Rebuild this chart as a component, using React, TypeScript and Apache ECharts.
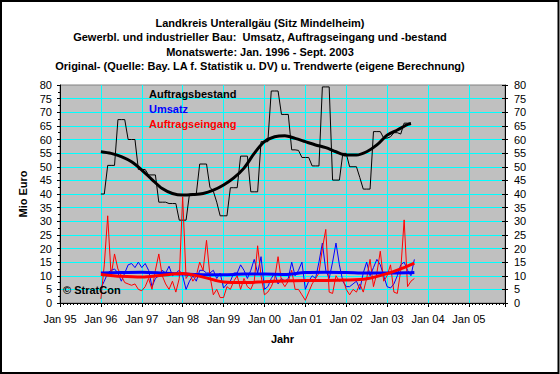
import React, { useEffect, useRef } from "react";
import * as echarts from "echarts";

const FONT = '"Liberation Sans", Arial, sans-serif';

const titleLines = [
  "Landkreis Unterallgäu (Sitz Mindelheim)",
  "Gewerbl. und industrieller Bau:  Umsatz, Auftragseingang und -bestand",
  "Monatswerte: Jan. 1996 - Sept. 2003",
  "Original- (Quelle: Bay. LA f. Statistik u. DV) u. Trendwerte (eigene Berechnung)",
];

const seriesNames = ["Auftragsbestand", "Umsatz", "Auftragseingang"];

// months counted from Jan 95 on the x axis; data start Jan 96
const dataStart = 12;

// Auftragsbestand, monthly, Jan 96 - Aug 03
const bestand = [
  40, 40, 50.5, 50.5, 50.5, 67.3, 67.3, 67.3, 60, 60, 60, 49,
  49, 49, 47, 47, 47, 37, 37, 37, 36.5, 36.5, 36.5, 30.4,
  30.4, 30.4, 40, 40, 40, 51, 51, 51, 42.5, 41, 37, 32,
  32, 32, 42.3, 42.3, 42.3, 53.9, 53.9, 53.9, 40.8, 40.8, 40.8, 59.2,
  59.2, 59.2, 77.8, 77.8, 77.8, 69.2, 69.2, 69.2, 56.2, 56.2, 56, 53.4,
  53.4, 53.4, 50.3, 50.3, 50.3, 79.3, 79.3, 79.3, 45.1, 45.1, 45.1, 54.9,
  54.9, 50, 50, 50, 46, 41.8, 41.8, 41.8, 62.9, 62.9, 62.9, 60.5,
  60.5, 61, 62.5, 62.5, 62, 66, 66, 66,
];

// Umsatz, monthly, Jan 96 - Sep 03
const umsatz = [
  5.5, 8, 11, 12, 12.5, 11, 8, 11, 14, 14.5, 13, 15,
  13, 14.5, 12, 6, 9, 10, 12, 11, 13.5, 10, 11, 12,
  10, 5, 8, 10, 8, 12, 12, 11, 11, 12, 9, 11,
  5.5, 7, 8, 11, 11, 14, 12, 9, 12, 16, 11, 17,
  5, 6, 9, 11, 7, 9, 8, 9, 15, 10, 12, 15,
  5, 8, 10, 9, 15, 22, 12, 9, 15, 22, 14, 8,
  6, 6, 7, 8, 5, 11, 15, 10, 13, 16, 14, 10,
  6, 5.5, 7, 10, 14, 15, 12, 10, 16,
];

// Auftragseingang, monthly, Jan 96 - Sep 03
const eingang = [
  1.5, 14, 32, 10, 18, 12.5, 10, 7.5, 7, 6.5, 7, 5,
  4.5, 6, 9, 5, 12, 18, 10, 7, 5, 8, 4, 9,
  39, 9, 11, 8, 10, 15, 12, 23, 10, 3, 5, 2,
  2, 6, 5, 8, 10, 5, 9, 6, 5, 8, 21, 10,
  3, 4, 6, 9, 17, 8, 6, 8, 12, 5, 5, 3,
  1, 4, 7, 9, 11, 20, 27, 4, 3.5, 10, 8, 9,
  5, 3, 5, 4, 7, 4, 9, 16, 6, 11, 19, 8,
  10, 14, 4, 3.5, 12, 30.5, 6, 8, 9,
];

// Trend values read at selected months (offset from Jan 96)
const bestandTrendMonths = [0, 3, 6, 9, 12, 15, 18, 21, 24, 27, 30, 33, 36, 39, 42, 45, 48, 51, 54, 57, 60, 63, 66, 69, 72, 75, 78, 81, 84, 87, 90, 91];
const bestandTrend = [55.5, 54.9, 53.7, 51.8, 48.8, 45.3, 42, 40.2, 39.6, 39.8, 40.2, 41.4, 43.3, 45.9, 49.5, 54.9, 59.2, 61, 61.4, 60.4, 59.2, 58, 57, 55.5, 54.3, 54.3, 55.5, 58, 61.6, 63.5, 65.5, 65.9];

const flowTrendMonths = [0, 6, 12, 18, 24, 30, 36, 42, 48, 54, 60, 66, 72, 78, 84, 90, 92];
const umsatzTrend = [11, 11.2, 11.3, 11, 10.6, 10.4, 10.4, 10.6, 10.6, 10.5, 11.2, 11.3, 11.2, 11, 11, 11.1, 11.2];
const eingangTrend = [10.5, 9.8, 9.5, 10.2, 10.8, 9.5, 7.7, 7.5, 7.8, 8.1, 8.3, 8.3, 8.4, 8.9, 10.8, 13.5, 14.6];

const yearLabel = (v: number) => {
  const y = (95 + Math.round(v / 12)) % 100;
  return "Jan " + (y < 10 ? "0" + y : String(y));
};

const monthly = (vals: number[]) => vals.map((v, i) => [dataStart + i, v]);
const trend = (months: number[], vals: number[]) => months.map((m, i) => [dataStart + m, vals[i]]);

export default function App() {
  const ref = useRef<HTMLDivElement>(null);

  useEffect(() => {
    document.body.style.margin = "0";
    const chart = echarts.init(ref.current!, null, { renderer: "svg" });
    const axisFont = { fontFamily: FONT, fontSize: 11, color: "#000" };
    const yCommon = {
      type: "value" as const,
      min: 0,
      max: 80,
      interval: 5,
    };
    chart.setOption({
      animation: false,
      backgroundColor: "#fff",
      title: {
        text: titleLines.join("\n"),
        left: 260,
        top: 16,
        textAlign: "center",
        padding: 0,
        textStyle: { fontFamily: FONT, fontSize: 11, fontWeight: "bold", color: "#000", lineHeight: 14.3 },
      },
      legend: {
        orient: "vertical",
        left: 143,
        top: 87,
        padding: 0,
        itemWidth: 0,
        itemHeight: 0,
        itemGap: 2.3,
        selectedMode: false,
        textStyle: { fontFamily: FONT, fontSize: 11, fontWeight: "bold", lineHeight: 13 },
        data: [
          { name: seriesNames[0], textStyle: { color: "#000000" } },
          { name: seriesNames[1], textStyle: { color: "#0000FF" } },
          { name: seriesNames[2], textStyle: { color: "#FF0000" } },
        ],
      },
      grid: {
        left: 60,
        top: 85,
        right: 55,
        bottom: 71,
        show: true,
        backgroundColor: "#C0C0C0",
        borderColor: "#808080",
        borderWidth: 1,
      },
      xAxis: {
        type: "value",
        min: 0,
        max: 130.6,
        interval: 12,
        axisLine: { lineStyle: { color: "#000" } },
        axisTick: { length: 4, lineStyle: { color: "#000" } },
        minorTick: { show: true, splitNumber: 12, length: 2, lineStyle: { color: "#000" } },
        splitLine: { show: true, showMinLine: false, showMaxLine: false, lineStyle: { color: "#00FFFF", width: 1 } },
        axisLabel: { ...axisFont, margin: 10, formatter: yearLabel, showMaxLabel: false },
        name: "Jahr",
        nameLocation: "middle",
        nameGap: 30,
        nameTextStyle: { fontFamily: FONT, fontSize: 11, fontWeight: "bold", color: "#000" },
      },
      yAxis: [
        {
          ...yCommon,
          position: "left",
          axisLine: { show: true, lineStyle: { color: "#000" } },
          axisTick: { show: true, length: 3, lineStyle: { color: "#000" } },
          minorTick: { show: true, splitNumber: 2, length: 2, lineStyle: { color: "#000" } },
          splitLine: { show: true, showMinLine: false, showMaxLine: false, lineStyle: { color: "#00FFFF", width: 1 } },
          axisLabel: { ...axisFont, margin: 8 },
          name: "Mio Euro",
          nameLocation: "middle",
          nameGap: 28,
          nameRotate: 90,
          nameTextStyle: { fontFamily: FONT, fontSize: 11, fontWeight: "bold", color: "#000" },
        },
        {
          ...yCommon,
          position: "right",
          axisLine: { show: true, lineStyle: { color: "#000" } },
          axisTick: { show: true, length: 3, lineStyle: { color: "#000" } },
          splitLine: { show: false },
          axisLabel: { ...axisFont, margin: 9 },
        },
        {
          ...yCommon,
          position: "right",
          axisLine: { show: false },
          axisTick: { show: true, inside: true, length: 3, lineStyle: { color: "#000" } },
          splitLine: { show: false },
          axisLabel: { show: false },
        },
      ],
      graphic: [
        {
          type: "text",
          left: 63,
          top: 284,
          z: 100,
          style: { text: "© StratCon", font: `bold 11px ${FONT}`, fill: "#000" },
        },
        {
          type: "rect",
          z: 100,
          shape: { x: 1, y: 1, width: 557.5, height: 372 },
          style: { fill: "none", stroke: "#000", lineWidth: 2 },
          silent: true,
        },
      ],
      series: [
        {
          name: seriesNames[0],
          type: "line",
          data: monthly(bestand),
          symbol: "none",
          lineStyle: { color: "#000", width: 1 },
          itemStyle: { color: "#000" },
          silent: true,
        },
        {
          name: "Auftragsbestand Trend",
          type: "line",
          data: trend(bestandTrendMonths, bestandTrend),
          symbol: "none",
          smooth: 0.3,
          lineStyle: { color: "#000", width: 3 },
          itemStyle: { color: "#000" },
          silent: true,
        },
        {
          name: seriesNames[1],
          type: "line",
          data: monthly(umsatz),
          symbol: "none",
          lineStyle: { color: "#0000FF", width: 1 },
          itemStyle: { color: "#0000FF" },
          silent: true,
        },
        {
          name: seriesNames[2],
          type: "line",
          data: monthly(eingang),
          symbol: "none",
          lineStyle: { color: "#FF0000", width: 1 },
          itemStyle: { color: "#FF0000" },
          silent: true,
        },
        {
          name: "Umsatz Trend",
          type: "line",
          data: trend(flowTrendMonths, umsatzTrend),
          symbol: "none",
          smooth: 0.3,
          lineStyle: { color: "#0000FF", width: 3 },
          itemStyle: { color: "#0000FF" },
          silent: true,
        },
        {
          name: "Auftragseingang Trend",
          type: "line",
          data: trend(flowTrendMonths, eingangTrend),
          symbol: "none",
          smooth: 0.3,
          lineStyle: { color: "#FF0000", width: 3 },
          itemStyle: { color: "#FF0000" },
          silent: true,
        },
      ],
    });
    return () => chart.dispose();
  }, []);

  return <div ref={ref} style={{ width: 560, height: 374 }} />;
}
